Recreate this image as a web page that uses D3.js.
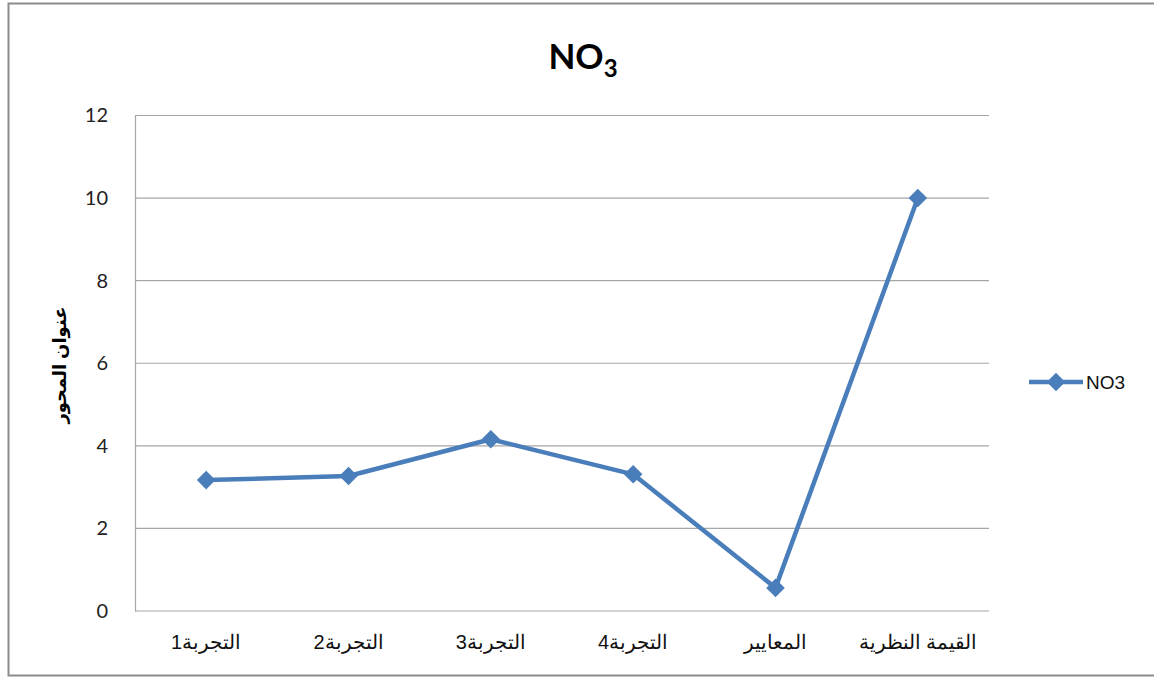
<!DOCTYPE html>
<html>
<head>
<meta charset="utf-8">
<script src="https://cdn.jsdelivr.net/npm/d3@7"></script>
<style>
  body { margin: 0; background: #fff; }
  svg { display: block; }
</style>
</head>
<body>
<div id="chart"></div>
<script>
const categories = ['التجربة1', 'التجربة2', 'التجربة3', 'التجربة4', 'المعايير', 'القيمة النظرية'];
const no3Values  = [3.17, 3.27, 4.16, 3.31, 0.56, 10];
const yTicks     = [0, 2, 4, 6, 8, 10, 12];
const seriesName = 'NO3';

const W = 1154, H = 677;
const margin = {top: 115.5, right: 165, bottom: 66, left: 135};
const width  = W - margin.left - margin.right;
const height = H - margin.top - margin.bottom;
const blue = '#4a7ebb';

const svg = d3.select('#chart').append('svg')
  .attr('width', W)
  .attr('height', H);

// outer frame (no right edge visible in the picture)
svg.append('path')
  .attr('d', `M${W},3.5 H8.5 V675.5 H${W}`)
  .attr('fill', 'none')
  .attr('stroke', '#8c8c8c')
  .attr('stroke-width', 2);

const chart = svg.append('g')
  .attr('transform', `translate(${margin.left},${margin.top})`);

const x = d3.scaleBand().domain(categories).range([0, width]);
const y = d3.scaleLinear().domain([0, 12]).range([height, 0]);

// gridlines
chart.selectAll('.grid')
  .data(yTicks)
  .join('line')
  .attr('class', 'grid')
  .attr('x1', 0).attr('x2', width)
  .attr('y1', d => y(d)).attr('y2', d => y(d))
  .attr('stroke', '#a6a6a6')
  .attr('stroke-width', 1.2);

// y axis
const yAxis = chart.append('g')
  .call(d3.axisLeft(y).tickValues(yTicks).tickSize(0).tickPadding(27));
yAxis.select('.domain').attr('stroke', '#a6a6a6').attr('stroke-width', 1.2);
yAxis.selectAll('text')
  .attr('font-family', 'Lato, "Open Sans", sans-serif')
  .attr('font-size', 20)
  .attr('fill', '#222');

// x axis labels
const xAxis = chart.append('g')
  .attr('transform', `translate(0,${height})`)
  .call(d3.axisBottom(x).tickSize(0).tickPadding(24));
xAxis.select('.domain').remove();
xAxis.selectAll('text')
  .attr('font-family', '"Liberation Sans", Arial, sans-serif')
  .attr('font-size', 20)
  .attr('fill', '#111');

// line + markers
const line = d3.line()
  .x((d, i) => x(categories[i]) + x.bandwidth() / 2)
  .y(d => y(d));

chart.append('path')
  .datum(no3Values)
  .attr('fill', 'none')
  .attr('stroke', blue)
  .attr('stroke-width', 4.5)
  .attr('stroke-linejoin', 'round')
  .attr('d', line);

const diamond = d3.symbol().type(d3.symbolDiamond2).size(220);
chart.selectAll('.marker')
  .data(no3Values)
  .join('path')
  .attr('class', 'marker')
  .attr('d', diamond)
  .attr('transform', (d, i) => `translate(${x(categories[i]) + x.bandwidth() / 2},${y(d)})`)
  .attr('fill', blue);

// title
const title = svg.append('text')
  .attr('x', 583)
  .attr('y', 69)
  .attr('text-anchor', 'middle')
  .attr('font-family', 'Lato, "Open Sans", sans-serif')
  .attr('font-weight', 'bold')
  .attr('font-size', 35)
  .attr('fill', '#000');
title.append('tspan').text('NO');
title.append('tspan').attr('font-size', 24).attr('dy', 8).text('3');

// y axis title
svg.append('text')
  .attr('transform', 'translate(66,365) rotate(-90)')
  .attr('text-anchor', 'middle')
  .attr('font-family', '"Liberation Sans", "DejaVu Sans", sans-serif')
  .attr('font-weight', 'bold')
  .attr('font-size', 18)
  .attr('fill', '#000')
  .text('عنوان المحور');

// legend
const legend = svg.append('g')
  .attr('transform', `translate(1029,382)`);
legend.append('line')
  .attr('x1', 0).attr('x2', 54)
  .attr('stroke', blue)
  .attr('stroke-width', 4.5);
legend.append('path')
  .attr('d', diamond)
  .attr('transform', 'translate(27,0)')
  .attr('fill', blue);
legend.append('text')
  .attr('x', 57)
  .attr('dy', '0.35em')
  .attr('font-family', '"Liberation Sans", Arial, sans-serif')
  .attr('font-size', 19)
  .attr('fill', '#111')
  .text(seriesName);
</script>
</body>
</html>
